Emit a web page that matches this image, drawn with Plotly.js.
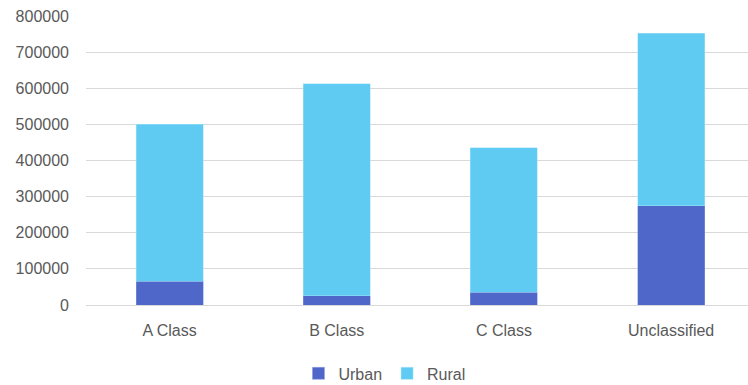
<!DOCTYPE html>
<html>
<head>
<meta charset="utf-8">
<script src="https://cdn.plot.ly/plotly-3.0.1.min.js"></script>
<style>html,body{margin:0;padding:0;background:#fff;}#chart{width:748px;height:385px;}</style>
</head>
<body>
<div id="chart"></div>
<script>
const categories = ["A Class", "B Class", "C Class", "Unclassified"];
const urban = [66000, 26000, 35000, 275000];
const rural = [434000, 586000, 400000, 477000];
const yTicks = [0, 100000, 200000, 300000, 400000, 500000, 600000, 700000, 800000];

const font = {family: "Liberation Sans, Arial, sans-serif", size: 16, color: "#595959"};

const traces = [
  {type: "bar", name: "Urban", x: categories, y: urban,
   marker: {color: "#4F67C8", line: {color: "#8A9BE0", width: 0.5}}},
  {type: "bar", name: "Rural", x: categories, y: rural,
   marker: {color: "#5FCBF2", line: {color: "#A6E4F8", width: 0.5}}}
];

const layout = {
  width: 748, height: 385,
  margin: {l: 86, r: 0, t: 16, b: 80},
  barmode: "stack",
  bargap: 0.6,
  paper_bgcolor: "#fff", plot_bgcolor: "#fff",
  font: font,
  showlegend: true,
  legend: {orientation: "h", xref: "container", yref: "container", x: 0.514, xanchor: "center",
           y: 0.03, yanchor: "middle", traceorder: "normal", font: font},
  xaxis: {type: "category", range: [-0.5, 3.46], showgrid: false, zeroline: false, showline: false,
          ticks: "", tickfont: font, ticklabelstandoff: 14},
  yaxis: {range: [0, 800000], tickvals: yTicks, ticktext: yTicks.map(String), showgrid: true,
          gridcolor: "#D9D9D9", gridwidth: 1, zeroline: true, zerolinecolor: "#D9D9D9", zerolinewidth: 1,
          showline: false, ticks: "", tickfont: font, ticklabelstandoff: 16}
};

Plotly.newPlot("chart", traces, layout, {displayModeBar: false, staticPlot: true});
</script>
</body>
</html>
